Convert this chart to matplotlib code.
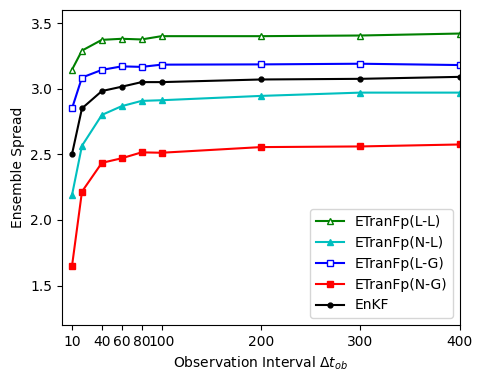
import matplotlib.pyplot as plt

# Intervalos de observacion
intervalos = [10, 20, 40, 60, 80, 100, 200, 300, 400]

spread_ll = [3.145, 3.29, 3.372, 3.38, 3.375, 3.40, 3.40, 3.405, 3.42]
spread_nl = [2.19, 2.565, 2.80, 2.867, 2.907, 2.912, 2.945, 2.97, 2.97]
spread_lg = [2.85, 3.085, 3.143, 3.17, 3.166, 3.183, 3.185, 3.19, 3.18]
spread_ng = [1.65, 2.216, 2.435, 2.47, 2.515, 2.512, 2.555, 2.56, 2.575]
spread_enkf = [2.502, 2.85, 2.982, 3.015, 3.05, 3.05, 3.07, 3.075, 3.09]

ticks_x = [10, 40, 60, 80, 100, 200, 300, 400]

fig = plt.figure(figsize=(4.85, 3.81), dpi=100)
ax = fig.add_axes([0.128, 0.147, 0.82, 0.827])

ax.plot(intervalos, spread_ll, color='g', marker='^', mfc='white', markersize=5, label='ETranFp(L-L)')
ax.plot(intervalos, spread_nl, color='c', marker='^', markersize=5, label='ETranFp(N-L)')
ax.plot(intervalos, spread_lg, color='b', marker='s', mfc='white', markersize=5, label='ETranFp(L-G)')
ax.plot(intervalos, spread_ng, color='r', marker='s', markersize=5, label='ETranFp(N-G)')
ax.plot(intervalos, spread_enkf, color='k', marker='o', markersize=3.5, label='EnKF')

ax.set_xlim(0, 400)
ax.set_ylim(1.2, 3.6)
ax.set_xticks(ticks_x)
ax.set_yticks([1.5, 2.0, 2.5, 3.0, 3.5])
ax.set_xlabel(r'Observation Interval $\Delta t_{ob}$')
ax.set_ylabel('Ensemble Spread')
ax.legend(loc='lower right')

plt.savefig('out.png')
plt.close()
